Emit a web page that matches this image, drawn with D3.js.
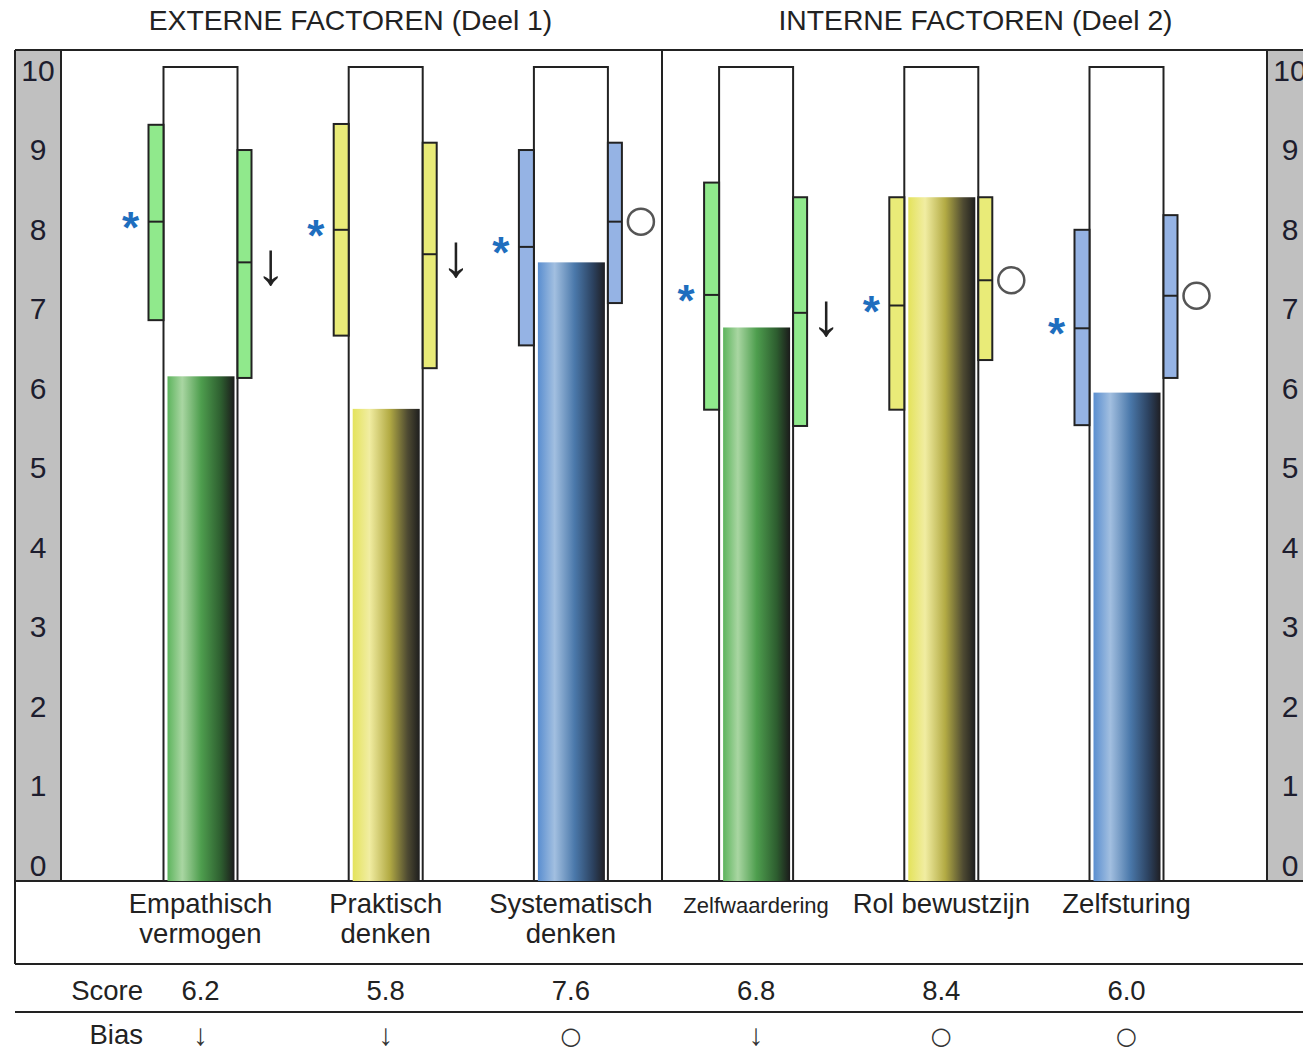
<!DOCTYPE html>
<html>
<head>
<meta charset="utf-8">
<script src="https://cdn.jsdelivr.net/npm/d3@7"></script>
<style>
  html, body { margin: 0; padding: 0; background: #fff; }
  svg { display: block; font-family: "Liberation Sans", Arial, sans-serif; }
</style>
</head>
<body>
<svg id="chart" width="1303" height="1053"></svg>
<script>
// ---------- data ----------
const categories = ["Empathisch vermogen", "Praktisch denken", "Systematisch denken", "Zelfwaardering", "Rol bewustzijn", "Zelfsturing"];
const labelLines = [["Empathisch", "vermogen"], ["Praktisch", "denken"], ["Systematisch", "denken"], ["Zelfwaardering"], ["Rol bewustzijn"], ["Zelfsturing"]];
const scores   = [6.2, 5.8, 7.6, 6.8, 8.4, 6.0];
const leftLow  = [6.89, 6.70, 6.58, 5.79, 5.79, 5.60];
const leftMed  = [8.10, 8.00, 7.79, 7.20, 7.07, 6.79];
const leftHigh = [9.29, 9.30, 8.98, 8.58, 8.40, 8.00];
const rightLow = [6.18, 6.30, 7.10, 5.59, 6.40, 6.18];
const rightMed = [7.60, 7.70, 8.10, 6.98, 7.38, 7.19];
const rightHigh= [8.98, 9.07, 9.07, 8.40, 8.40, 8.18];
const bias     = ["↓", "↓", "○", "↓", "○", "○"];
const colorKeys = ["green", "yellow", "blue", "green", "yellow", "blue"];
const yTicks = [0, 1, 2, 3, 4, 5, 6, 7, 8, 9, 10];
const groupTitles = ["EXTERNE FACTOREN (Deel 1)", "INTERNE FACTOREN (Deel 2)"];
const rowLabels = ["Score", "Bias"];

const boxFill = { green: "#90E98C", yellow: "#E9EB78", blue: "#95B3E4" };
const gradStops = {
  green:  [["0%", "#5DB45D"], ["22%", "#A9D6A2"], ["50%", "#4E9E4E"], ["80%", "#2D5D2F"], ["100%", "#1B1B1B"]],
  yellow: [["0%", "#E4E35C"], ["25%", "#F1EDA2"], ["55%", "#B3AB44"], ["82%", "#4E4A32"], ["100%", "#1E1E1E"]],
  blue:   [["0%", "#5A8ED0"], ["25%", "#A2BFE0"], ["55%", "#4A78AA"], ["82%", "#2C4260"], ["100%", "#1F1F24"]]
};

// ---------- layout ----------
const svg = d3.select("#chart");
const ink = "#222";
const frameLeft = 15, frameTop = 50, plotBottom = 881, labelBottom = 964, scoreLine = 1012;
const stripW = 46, rightStripX = 1267, divider = 662;

const y = d3.scaleLinear().domain([0, 10]).range([881, 67]);
const yLab = d3.scaleLinear().domain([0, 10]).range([865, 70]);
const x = d3.scalePoint().domain(categories).range([200.5, 1126.5]);
const colW = 74, boxW = 15;

// gradients
const defs = svg.append("defs");
Object.keys(gradStops).forEach(k => {
  const g = defs.append("linearGradient").attr("id", "grad-" + k)
    .attr("x1", "0%").attr("x2", "100%").attr("y1", "0%").attr("y2", "0%");
  gradStops[k].forEach(s => g.append("stop").attr("offset", s[0]).attr("stop-color", s[1]));
});

// grey strips
svg.append("rect").attr("x", frameLeft).attr("y", frameTop).attr("width", stripW)
  .attr("height", plotBottom - frameTop).attr("fill", "#C0C0C0");
svg.append("rect").attr("x", rightStripX).attr("y", frameTop).attr("width", stripW)
  .attr("height", plotBottom - frameTop).attr("fill", "#C0C0C0");

// frame lines
const lines = [
  [frameLeft, frameTop, 1303, frameTop],
  [frameLeft, frameTop, frameLeft, labelBottom],
  [frameLeft + stripW, frameTop, frameLeft + stripW, plotBottom],
  [rightStripX, frameTop, rightStripX, plotBottom],
  [divider, frameTop, divider, plotBottom],
  [frameLeft, plotBottom, 1303, plotBottom],
  [frameLeft, labelBottom, 1303, labelBottom],
  [frameLeft, scoreLine, 1303, scoreLine]
];
svg.append("g").selectAll("line").data(lines).join("line")
  .attr("x1", d => d[0]).attr("y1", d => d[1]).attr("x2", d => d[2]).attr("y2", d => d[3])
  .attr("stroke", ink).attr("stroke-width", 2);

// y tick labels on both strips
[frameLeft + stripW / 2, rightStripX + stripW / 2].forEach(cx => {
  svg.append("g").selectAll("text").data(yTicks).join("text")
    .attr("x", cx).attr("y", d => yLab(d) + 10.5)
    .attr("text-anchor", "middle").attr("font-size", 30).attr("fill", "#1d1d2e")
    .text(d => d);
});

// titles
svg.append("g").selectAll("text").data(groupTitles).join("text")
  .attr("x", (d, i) => i === 0 ? 350.5 : 975.5).attr("y", 30)
  .attr("text-anchor", "middle").attr("font-size", 28.3).attr("fill", ink)
  .text(d => d);

const cols = svg.append("g").selectAll("g").data(categories).join("g");

// white columns
cols.append("rect")
  .attr("x", d => x(d) - colW / 2).attr("y", y(10))
  .attr("width", colW).attr("height", y(0) - y(10))
  .attr("fill", "#fff").attr("stroke", ink).attr("stroke-width", 2);

// score bars
cols.append("rect")
  .attr("x", d => x(d) - colW / 2 + 4).attr("y", (d, i) => y(scores[i]))
  .attr("width", colW - 7).attr("height", (d, i) => y(0) - y(scores[i]))
  .attr("fill", (d, i) => "url(#grad-" + colorKeys[i] + ")");

// left box plots
cols.append("rect")
  .attr("x", d => x(d) - colW / 2 - boxW).attr("y", (d, i) => y(leftHigh[i]))
  .attr("width", boxW).attr("height", (d, i) => y(leftLow[i]) - y(leftHigh[i]))
  .attr("fill", (d, i) => boxFill[colorKeys[i]]).attr("stroke", ink).attr("stroke-width", 2);
cols.append("line")
  .attr("x1", d => x(d) - colW / 2 - boxW).attr("x2", d => x(d) - colW / 2)
  .attr("y1", (d, i) => y(leftMed[i])).attr("y2", (d, i) => y(leftMed[i]))
  .attr("stroke", ink).attr("stroke-width", 2);

// right box plots
cols.append("rect")
  .attr("x", d => x(d) + colW / 2).attr("y", (d, i) => y(rightHigh[i]))
  .attr("width", boxW - 1).attr("height", (d, i) => y(rightLow[i]) - y(rightHigh[i]))
  .attr("fill", (d, i) => boxFill[colorKeys[i]]).attr("stroke", ink).attr("stroke-width", 2);
cols.append("line")
  .attr("x1", d => x(d) + colW / 2).attr("x2", d => x(d) + colW / 2 + boxW - 1)
  .attr("y1", (d, i) => y(rightMed[i])).attr("y2", (d, i) => y(rightMed[i]))
  .attr("stroke", ink).attr("stroke-width", 2);

// stars
cols.append("text")
  .attr("x", d => x(d) - colW / 2 - 33).attr("y", (d, i) => y(leftMed[i]) + 21)
  .attr("text-anchor", "middle").attr("font-size", 44).attr("font-weight", "bold")
  .attr("fill", "#1E6EBE").text("*");

// bias markers next to right box
cols.each(function (d, i) {
  const g = d3.select(this);
  const cx = x(d) + colW / 2 + 33, cy = y(rightMed[i]);
  if (bias[i] === "○") {
    g.append("circle").attr("cx", cx).attr("cy", cy).attr("r", 13)
      .attr("fill", "none").attr("stroke", "#555").attr("stroke-width", 2.5);
  } else {
    g.append("text").attr("x", cx).attr("y", cy + 22)
      .attr("text-anchor", "middle").attr("font-size", 60).attr("fill", ink).text(bias[i]);
  }
});

// category labels
cols.each(function (d, i) {
  const g = d3.select(this);
  const lns = labelLines[i];
  const fs = lns[0] === "Zelfwaardering" ? 22 : 27.5;
  g.selectAll("text.cat").data(lns).join("text").attr("class", "cat")
    .attr("x", x(d)).attr("y", (t, j) => 913 + j * 30)
    .attr("text-anchor", "middle").attr("font-size", fs).attr("fill", ink).text(t => t);
});

// score row
svg.append("g").selectAll("text").data(rowLabels).join("text")
  .attr("x", 143).attr("y", (d, i) => i === 0 ? 1000 : 1044)
  .attr("text-anchor", "end").attr("font-size", 27.5).attr("fill", ink).text(d => d);
cols.append("text")
  .attr("x", d => x(d)).attr("y", 1000)
  .attr("text-anchor", "middle").attr("font-size", 27.5).attr("fill", ink)
  .text((d, i) => scores[i].toFixed(1));
cols.append("text")
  .attr("x", d => x(d)).attr("y", (d, i) => bias[i] === "○" ? 1044 : 1045)
  .attr("text-anchor", "middle")
  .attr("font-family", (d, i) => bias[i] === "○" ? "DejaVu Sans" : null)
  .attr("font-size", (d, i) => bias[i] === "○" ? 24 : 30)
  .attr("fill", "#333")
  .text((d, i) => bias[i]);
</script>
</body>
</html>
